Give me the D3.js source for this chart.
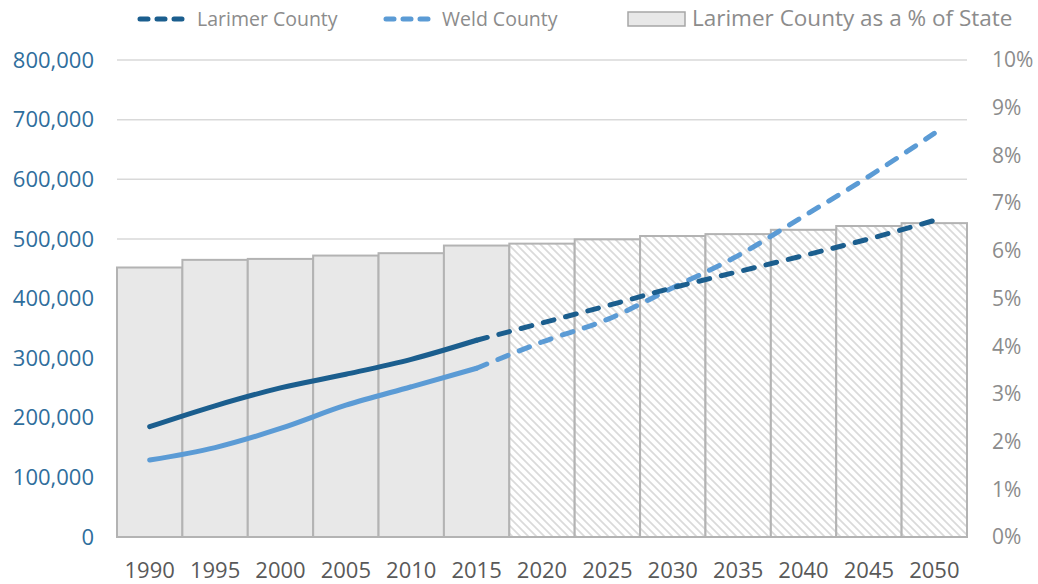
<!DOCTYPE html>
<html>
<head>
<meta charset="utf-8">
<script src="https://cdn.jsdelivr.net/npm/d3@7"></script>
<style>
  body { margin: 0; background: #fff; }
  text { font-family: 'Open Sans', sans-serif; }
</style>
</head>
<body>
<div id="chart"></div>
<script>
const years = ['1990','1995','2000','2005','2010','2015','2020','2025','2030','2035','2040','2045','2050'];
const larimer = [185000, 220000, 250000, 273000, 298000, 330000, 359000, 388000, 418000, 445000, 472000, 500000, 531000];
const weld = [129000, 150000, 182000, 221000, 252000, 283000, 327000, 365000, 418000, 472000, 538000, 605000, 677000];
const larimerShare = [0.0565, 0.0581, 0.0583, 0.0590, 0.0595, 0.0611, 0.0615, 0.0624, 0.0631, 0.0635, 0.0644, 0.0652, 0.0658];
const leftTicks = [0, 100000, 200000, 300000, 400000, 500000, 600000, 700000, 800000];
const rightTicks = [0, 0.01, 0.02, 0.03, 0.04, 0.05, 0.06, 0.07, 0.08, 0.09, 0.10];
const lastHistorical = 5; // 2015, projections after

const width = 1038, height = 584;
const plot = {left: 117, right: 967, top: 60, bottom: 537};

const darkBlue = '#1b5e8e';
const lightBlue = '#5b9bd5';
const barFill = '#e8e8e8';
const barStroke = '#b3b3b3';

const svg = d3.select('#chart')
  .append('svg')
    .attr('width', width)
    .attr('height', height);

// hatch for projected bars
const defs = svg.append('defs');
const pat = defs.append('pattern')
    .attr('id', 'hatch')
    .attr('patternUnits', 'userSpaceOnUse')
    .attr('width', 8)
    .attr('height', 8);
pat.append('rect').attr('width', 8).attr('height', 8).attr('fill', '#fff');
pat.append('path')
    .attr('d', 'M-1,7 l2,2 M0,0 l8,8 M7,-1 l2,2')
    .attr('stroke', '#dadada')
    .attr('stroke-width', 1.7);

const x = d3.scaleBand()
    .domain(years)
    .range([plot.left, plot.right])
    .padding(0);

const yLeft = d3.scaleLinear()
    .domain([0, 800000])
    .range([plot.bottom, plot.top]);

const yRight = d3.scaleLinear()
    .domain([0, 0.10])
    .range([plot.bottom, plot.top]);

// gridlines
svg.append('g')
  .selectAll('line')
  .data(leftTicks.filter(d => d > 0))
  .join('line')
    .attr('x1', plot.left)
    .attr('x2', plot.right)
    .attr('y1', d => yLeft(d))
    .attr('y2', d => yLeft(d))
    .attr('stroke', '#d9d9d9')
    .attr('stroke-width', 1.5);

// bars
svg.append('g')
  .selectAll('rect')
  .data(years)
  .join('rect')
    .attr('x', d => x(d))
    .attr('width', x.bandwidth())
    .attr('y', (d, i) => yRight(larimerShare[i]))
    .attr('height', (d, i) => plot.bottom - yRight(larimerShare[i]))
    .attr('fill', (d, i) => i > lastHistorical ? 'url(#hatch)' : barFill)
    .attr('stroke', barStroke)
    .attr('stroke-width', 2);

// lines
const cx = i => x(years[i]) + x.bandwidth() / 2;
const line = (vals) => d3.line()
    .x(d => cx(d))
    .y(d => yLeft(vals[d]))
    .curve(d3.curveMonotoneX);

const hist = d3.range(0, lastHistorical + 1);
const proj = d3.range(lastHistorical, years.length);

[[weld, lightBlue], [larimer, darkBlue]].forEach(([vals, col]) => {
  svg.append('path')
      .attr('d', line(vals)(hist))
      .attr('fill', 'none')
      .attr('stroke', col)
      .attr('stroke-width', 5)
      .attr('stroke-linecap', 'round');
  svg.append('path')
      .attr('d', line(vals)(proj))
      .attr('fill', 'none')
      .attr('stroke', col)
      .attr('stroke-width', 5)
      .attr('stroke-dasharray', '11,12')
      .attr('stroke-linecap', 'round');
});

// left axis
svg.append('g')
  .selectAll('text')
  .data(leftTicks)
  .join('text')
    .attr('x', 94)
    .attr('y', d => yLeft(d))
    .attr('dy', '0.35em')
    .attr('text-anchor', 'end')
    .attr('font-size', 22)
    .attr('fill', '#2f6e9c')
    .text(d => d3.format(',')(d));

// right axis
svg.append('g')
  .selectAll('text')
  .data(rightTicks)
  .join('text')
    .attr('x', 992)
    .attr('y', d => yRight(d))
    .attr('dy', '0.35em')
    .attr('font-size', 21)
    .attr('fill', '#8c8c8c')
    .text(d => d3.format('.0%')(d));

// x labels
svg.append('g')
  .selectAll('text')
  .data(years)
  .join('text')
    .attr('x', d => x(d) + x.bandwidth() / 2)
    .attr('y', 578)
    .attr('text-anchor', 'middle')
    .attr('font-size', 22)
    .attr('fill', '#595959')
    .text(d => d);

// legend
const legend = svg.append('g');
[[137, darkBlue, 'Larimer County', 197], [383, lightBlue, 'Weld County', 442]].forEach(([lx, col, label, tx]) => {
  legend.append('line')
      .attr('x1', lx + 3).attr('x2', lx + 50)
      .attr('y1', 19).attr('y2', 19)
      .attr('stroke', col)
      .attr('stroke-width', 5)
      .attr('stroke-dasharray', '8,9')
      .attr('stroke-linecap', 'round');
  legend.append('text')
      .attr('x', tx)
      .attr('y', 19)
      .attr('dy', '0.35em')
      .attr('font-size', 19.5)
      .attr('fill', '#8c8c8c')
      .text(label);
});
legend.append('rect')
    .attr('x', 628).attr('y', 12)
    .attr('width', 57).attr('height', 14)
    .attr('fill', barFill)
    .attr('stroke', '#a6a6a6')
    .attr('stroke-width', 1.5);
legend.append('text')
    .attr('x', 692)
    .attr('y', 18)
    .attr('dy', '0.35em')
    .attr('font-size', 22.5)
    .attr('fill', '#8c8c8c')
    .text('Larimer County as a % of State');
</script>
</body>
</html>
